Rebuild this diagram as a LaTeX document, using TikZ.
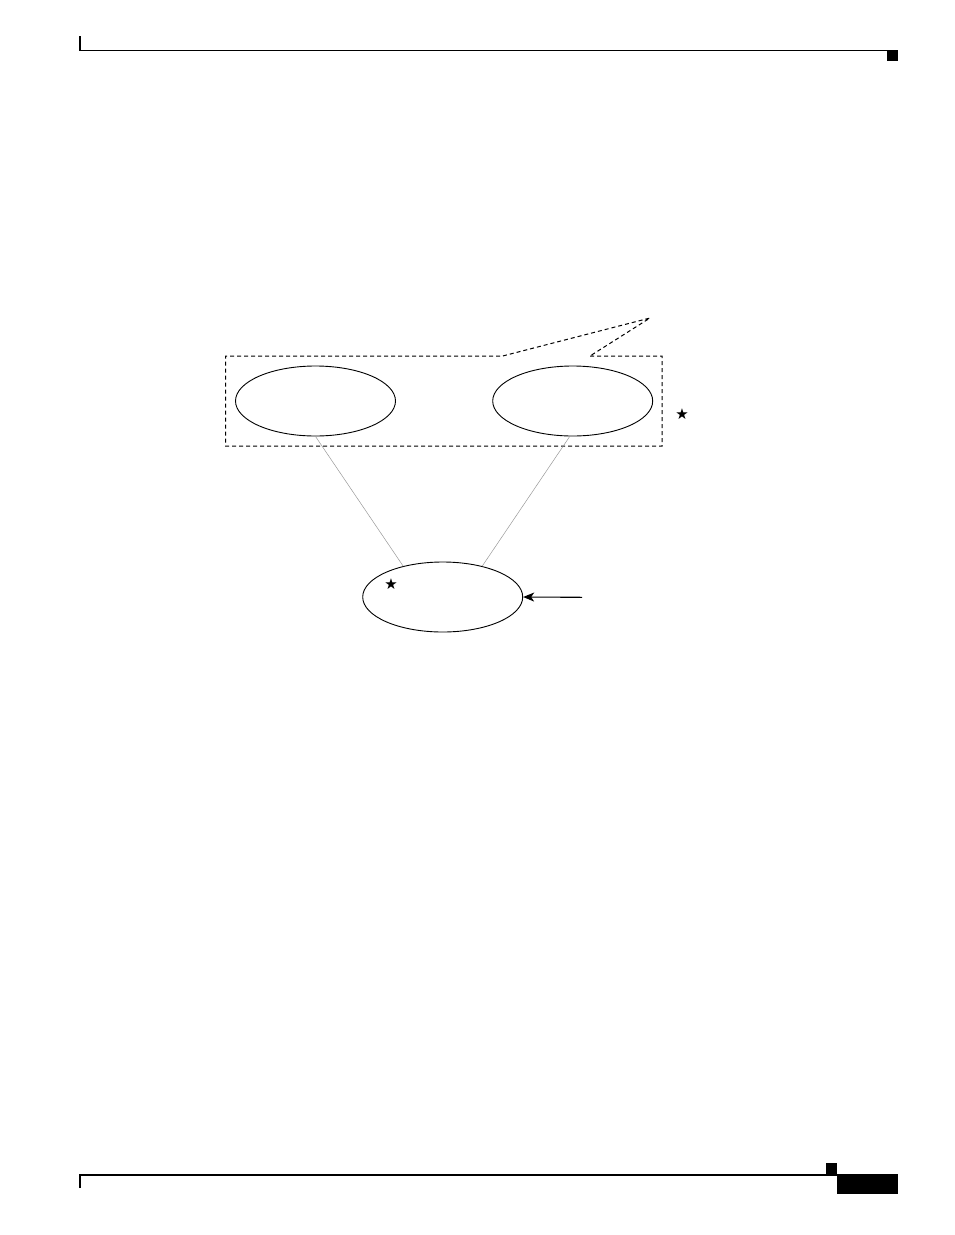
\documentclass[tikz,border=0pt]{standalone}
\usepackage{fontspec}
\newfontfamily\symfont{DejaVu Sans}
\usetikzlibrary{shapes.geometric,arrows.meta}
\begin{document}
\begin{tikzpicture}[x=1pt,y=-1pt,
  oval/.style={ellipse,draw,line width=0.9pt,minimum width=160pt,minimum height=70pt,inner sep=0pt},
  groupline/.style={dashed,dash pattern=on 4pt off 3pt,line width=1pt},
  link/.style={draw=black!40,line width=0.5pt},
  rule/.style={line width=1.2pt},
  starmark/.style={inner sep=0pt,font=\symfont\fontsize{15}{15}\selectfont}]
\useasboundingbox (0,0) rectangle (954,1235);
% header
\draw[rule] (80,36) -- (80,50.5) -- (887,50.5);
\fill (886.5,50) rectangle (897.5,60.7);
% footer
\draw[rule] (80,1188) -- (80,1175) -- (837,1175);
\fill (825.5,1163) rectangle (836.7,1175.5);
\fill (836.7,1174) rectangle (898,1193.7);
% group box with callout
\draw[groupline] (590,356) -- (662,356) -- (662,446) -- (225.5,446) -- (225.5,356) -- (502.7,356) -- (650,318) -- cycle;
% ellipses
\node[oval] (L) at (315.5,401) {};
\node[oval] (R) at (572.7,401) {};
\node[oval] (B) at (442.7,597) {};
\node[starmark] (s1) at (682,414.5) {★};
\node[starmark] (s2) at (391,584.5) {★};
% links
\draw[link] (L.south) -- (B.142);
\draw[link] ([xshift=-3pt]R.south) -- (B.38);
% arrow
\coordinate (a0) at (582,597.3);
\draw[line width=1.1pt,-{Stealth[length=11pt,width=9pt,inset=3pt]}] (a0) -- (B.east);
\end{tikzpicture}
\end{document}
